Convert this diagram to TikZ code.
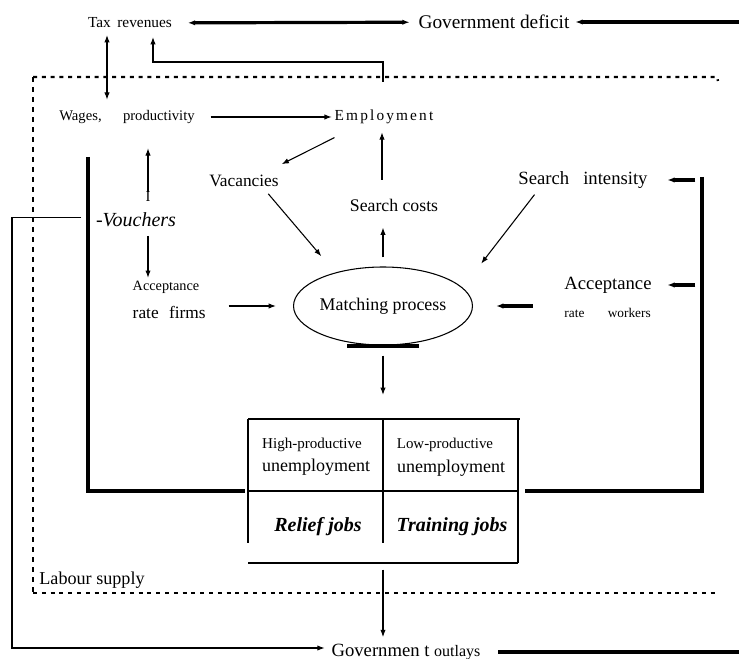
\documentclass[tikz,border=0pt]{standalone}
\usepackage{fontspec}
\setmainfont{Liberation Serif}
\usetikzlibrary{shapes.geometric, arrows.meta, positioning}
\newcommand{\fsz}[1]{\fontsize{#1pt}{#1pt}\selectfont}

\begin{document}
\begin{tikzpicture}[x=0.75pt, y=-0.75pt,
        every node/.style={inner sep=2pt},
        >={Latex[length=5.5pt, width=4pt]},
        conn/.style={line width=0.8pt},
        heavy/.style={line width=2.4pt},
        dotline/.style={line width=1.8pt, dash pattern=on 3pt off 3.6pt},
        dashline/.style={line width=1pt, dash pattern=on 4pt off 3.5pt}]
    \useasboundingbox (0,0) rectangle (739,659);

    % budget
    \node[font=\fsz{11.5}] (tax) at (130,23) {Tax\hspace{2pt} revenues};
    \node[font=\fsz{14.5}] (deficit) at (494,22) {Government deficit};
    \coordinate (rin) at (739,22);
    \coordinate (etax) at (383,82);

    % labour market
    \node[font=\fsz{11}] (wages) at (127,117) {Wages,\hspace{16pt}productivity};
    \node[font=\fsz{11.5}\addfontfeature{LetterSpace=14}] (employ) at (384,117) {Employment};
    \node[font=\fsz{13}] (vac) at (244,181) {Vacancies};
    \node[font=\fsz{13.3}] (scost) at (394,205) {Search costs};
    \node[font=\fsz{14}] (sint) at (583,180) {Search\hspace{7pt} intensity};
    \node[font=\fsz{11}, inner sep=0pt] (vI) at (148,197) {I};
    \node[font=\fsz{15}\itshape] (vouch) at (136,220) {-Vouchers};
    \node[font=\fsz{10.7}] (accfA) at (166,287) {Acceptance};
    \node[font=\fsz{13}, below right=5.6pt and 0pt of accfA.south west] (accfB) {rate\hspace{4.5pt} firms};
    \node[font=\fsz{14}] (accwA) at (608,285) {Acceptance};
    \node[font=\fsz{10}, below right=6.6pt and 0pt of accwA.south west] (accwB) {rate\hspace{15pt} workers};
    \node[draw, ellipse, conn, minimum width=129.75pt, minimum height=58.5pt, inner sep=0pt,
          font=\fsz{13.4}] (match) at (383,306) {Matching process};

    % unemployment pool
    \coordinate (bnw) at (248,419);
    \coordinate (bne) at (518,419);
    \coordinate (bsw) at (248,563);
    \coordinate (bse) at (518,563);
    \coordinate (btop) at (383,419);
    \coordinate (bbot) at (383,563);
    \coordinate (bmw) at (248,491);
    \coordinate (bme) at (518,491);
    \node[font=\fsz{11.3}] (hiprod) at (312,445) {High-productive};
    \node[font=\fsz{13.5}] (hiunem) at (316,467) {unemployment};
    \node[font=\fsz{11.2}] (loprod) at (445,445) {Low-productive};
    \node[font=\fsz{13.5}] (lounem) at (451,468) {unemployment};
    \node[font=\fsz{15}\bfseries\itshape] (relief) at (318,527) {Relief jobs};
    \node[font=\fsz{15}\bfseries\itshape] (training) at (452,527) {Training jobs};

    \node[font=\fsz{13.6}] (labour) at (92,580) {Labour supply};
    \node[font=\fsz{14}] (outlays) at (406,652) {Governmen t {\fsz{12}outlays}};
    \coordinate (lcorner) at (12,648);
    \coordinate (oend) at (739,652);
    \coordinate (lbtop) at (88,157);
    \coordinate (rtop) at (702,177);
    \coordinate (dnw) at (33,77);
    \coordinate (dne) at (717,77);
    \coordinate (dsw) at (33,593);
    \coordinate (dse) at (717,593);

    % budget links
    \draw[heavy, <->, shorten <=9.75pt, shorten >=4.5pt] (tax) -- (deficit);
    \draw[heavy, ->, shorten >=2.25pt] (rin) -- (deficit);
    \draw[conn, <->, shorten <=3pt, shorten >=5.7pt] ([xshift=-17.25pt]tax.south) -- ([xshift=-15pt]wages.north);
    \draw[conn, ->, shorten >=4.5pt] (etax) -- ++(0,-20) -| ([xshift=17.25pt]tax.south);

    % matching
    \draw[conn, ->, shorten <=9.75pt] (wages) -- (employ);
    \draw[conn, ->] ([xshift=2pt, yshift=-8pt]employ.south west) -- ([yshift=6pt]vac.north east);
    \draw[conn, ->, shorten <=12.2pt, shorten >=4pt] ([xshift=-9pt]scost.north) -- ([xshift=-1.5pt]employ.south);
    \draw[conn, ->, shorten <=6.75pt, shorten >=10pt] (match.north) -- ([xshift=-8.25pt]scost.south);
    \draw[conn, ->, shorten >=16pt] ([xshift=-10pt, yshift=-3pt]vac.south east) -- (match.145);
    \draw[conn, ->, shorten <=3pt, shorten >=22.7pt] ([xshift=-34.5pt]sint.south) -- (match.13);
    \draw[conn, ->, shorten <=15pt, shorten >=12.75pt] (match.west -| accfB.east) -- (match.west);
    \draw[heavy, ->, shorten <=21.75pt, shorten >=17.25pt] (match.east -| accwB.west) -- (match.east);
    \draw[heavy, ->, shorten <=5pt, shorten >=12.6pt] (sint.east -| rtop) -- (sint.east);
    \draw[heavy, ->, shorten <=5pt, shorten >=9.6pt] (accwA.east -| rtop) -- (accwA.east);
    \draw[conn, ->, shorten >=16.2pt] (vI.north) -- (vI.north |- wages.south);
    \draw[conn, ->, shorten <=4.3pt] (vouch.south -| vI) -- (vI |- accfA.north);
    \draw[line width=3pt] ([xshift=-27pt]match.south) -- ([xshift=27pt]match.south);

    % unemployment pool
    \draw[line width=2.2pt] (bnw) -- ([xshift=1.5pt]bne);
    \draw[line width=2.2pt] (bsw) -- (bse);
    \draw[line width=1pt] (bnw) -- ([yshift=15pt]bsw);
    \draw[line width=1.4pt] (bne) -- (bse);
    \draw[conn] (btop) -- ([yshift=15pt]bbot);
    \draw[conn] (bmw) -- (bme);
    \draw[heavy] (lbtop) |- ([xshift=-2.25pt]bmw);
    \draw[heavy] (rtop) |- ([xshift=5.25pt]bme);
    \draw[conn, ->, shorten <=7.5pt, shorten >=18pt] (match.south) -- (btop);
    \draw[conn, ->, shorten <=5pt, shorten >=3pt] (bbot) -- (bbot |- outlays.north);

    % outlays
    \draw[conn, ->, shorten <=9pt, shorten >=3pt] ([yshift=2pt]vouch.west) -| (lcorner) -- (lcorner -| outlays.west);
    \draw[heavy, shorten <=11.25pt] (outlays.east) -- (oend);

    % labour force
    \draw[dotline] (dnw) -- (dne) -- ++(1,4);
    \draw[dotline] (dsw) -- (dse);
    \draw[dashline] (dnw) -- (dsw);
\end{tikzpicture}
\end{document}
